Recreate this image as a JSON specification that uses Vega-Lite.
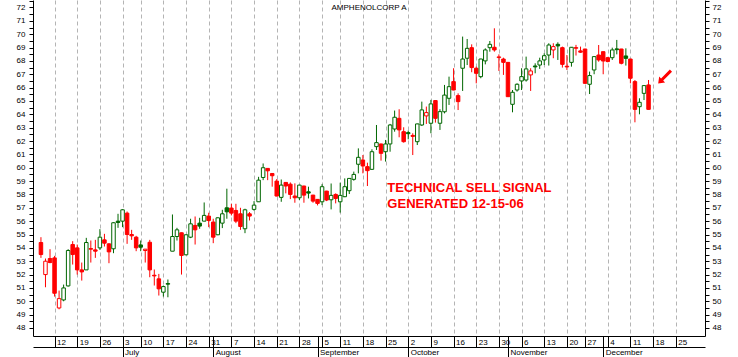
{
"$schema": "https://vega.github.io/schema/vega-lite/v6.json",
"width": 672, "height": 336,
"autosize": {"type": "none"},
"padding": {"left": 33, "top": 0, "right": 33, "bottom": 21},
"background": "white",
"config": {"view": {"stroke": null}, "font": "Liberation Sans"},
"data": {"values": [
{"i":0,"o":54.4,"h":54.8,"l":53.25,"c":53.5},
{"i":1,"o":52.0,"h":53.2,"l":51.05,"c":53.0},
{"i":2,"o":53.2,"h":53.9,"l":52.85,"c":52.9},
{"i":3,"o":53.25,"h":53.4,"l":50.35,"c":50.6},
{"i":4,"o":49.5,"h":50.8,"l":49.4,"c":50.2},
{"i":5,"o":50.1,"h":51.25,"l":50.0,"c":51.0},
{"i":6,"o":51.15,"h":53.9,"l":51.1,"c":53.8},
{"i":7,"o":54.25,"h":54.5,"l":52.75,"c":53.5},
{"i":8,"o":54.0,"h":54.25,"l":52.0,"c":52.35},
{"i":9,"o":52.35,"h":52.9,"l":51.55,"c":52.2},
{"i":10,"o":52.35,"h":54.75,"l":52.35,"c":54.4},
{"i":11,"o":53.95,"h":54.55,"l":52.9,"c":53.9},
{"i":12,"o":53.85,"h":54.6,"l":53.25,"c":53.75},
{"i":13,"o":54.0,"h":55.4,"l":53.85,"c":54.8},
{"i":14,"o":54.6,"h":55.05,"l":54.1,"c":54.35},
{"i":15,"o":54.3,"h":54.35,"l":52.85,"c":53.7},
{"i":16,"o":53.93,"h":55.92,"l":53.6,"c":55.88},
{"i":17,"o":56.0,"h":56.55,"l":55.5,"c":55.9},
{"i":18,"o":56.0,"h":56.9,"l":55.55,"c":56.85},
{"i":19,"o":56.6,"h":56.72,"l":54.3,"c":55.0},
{"i":20,"o":55.0,"h":55.35,"l":54.6,"c":54.9},
{"i":21,"o":54.8,"h":54.9,"l":53.75,"c":54.0},
{"i":22,"o":54.22,"h":54.55,"l":53.75,"c":54.05},
{"i":23,"o":53.8,"h":53.92,"l":52.9,"c":53.9},
{"i":24,"o":54.42,"h":54.6,"l":51.8,"c":52.35},
{"i":25,"o":51.95,"h":52.38,"l":51.18,"c":51.9},
{"i":26,"o":51.68,"h":52.05,"l":50.43,"c":50.93},
{"i":27,"o":50.68,"h":51.18,"l":50.35,"c":51.1},
{"i":28,"o":51.33,"h":51.63,"l":50.3,"c":51.28},
{"i":29,"o":53.75,"h":56.5,"l":53.75,"c":54.85},
{"i":30,"o":54.85,"h":55.5,"l":54.55,"c":55.35},
{"i":31,"o":55.13,"h":55.15,"l":52.0,"c":53.43},
{"i":32,"o":53.48,"h":55.0,"l":53.45,"c":54.98},
{"i":33,"o":54.8,"h":56.18,"l":54.73,"c":55.8},
{"i":34,"o":55.68,"h":56.35,"l":54.25,"c":55.35},
{"i":35,"o":55.85,"h":56.25,"l":55.43,"c":55.63},
{"i":36,"o":56.0,"h":57.4,"l":56.0,"c":56.43},
{"i":37,"o":56.38,"h":56.63,"l":55.55,"c":56.05},
{"i":38,"o":55.93,"h":56.18,"l":54.35,"c":54.8},
{"i":39,"o":54.98,"h":56.28,"l":54.95,"c":56.25},
{"i":40,"o":55.85,"h":56.85,"l":55.48,"c":56.55},
{"i":41,"o":57.0,"h":58.43,"l":56.18,"c":56.7},
{"i":42,"o":56.98,"h":57.3,"l":56.43,"c":56.6},
{"i":43,"o":56.8,"h":57.3,"l":55.85,"c":56.0},
{"i":44,"o":56.55,"h":57.0,"l":55.35,"c":55.6},
{"i":45,"o":55.43,"h":56.93,"l":55.1,"c":56.85},
{"i":46,"o":56.55,"h":56.68,"l":56.05,"c":56.38},
{"i":47,"o":56.88,"h":57.5,"l":56.78,"c":57.2},
{"i":48,"o":57.45,"h":59.32,"l":57.45,"c":59.07},
{"i":49,"o":59.27,"h":60.32,"l":59.07,"c":60.0},
{"i":50,"o":59.95,"h":59.97,"l":59.07,"c":59.77},
{"i":51,"o":59.57,"h":59.6,"l":58.58,"c":59.4},
{"i":52,"o":59.0,"h":59.15,"l":57.86,"c":57.88},
{"i":53,"o":57.78,"h":59.12,"l":57.45,"c":58.7},
{"i":54,"o":58.9,"h":58.92,"l":58.08,"c":58.63},
{"i":55,"o":58.77,"h":58.9,"l":57.65,"c":58.0},
{"i":56,"o":57.88,"h":58.83,"l":57.38,"c":57.75},
{"i":57,"o":57.75,"h":58.72,"l":57.58,"c":58.7},
{"i":58,"o":58.63,"h":58.65,"l":57.38,"c":57.95},
{"i":59,"o":58.2,"h":58.58,"l":57.7,"c":58.1},
{"i":60,"o":57.95,"h":57.97,"l":57.38,"c":57.5},
{"i":61,"o":57.63,"h":57.65,"l":57.18,"c":57.33},
{"i":62,"o":57.45,"h":58.77,"l":57.2,"c":58.58},
{"i":63,"o":58.25,"h":58.27,"l":57.5,"c":57.58},
{"i":64,"o":57.6,"h":58.82,"l":56.88,"c":57.93},
{"i":65,"o":58.0,"h":58.08,"l":57.33,"c":57.7},
{"i":66,"o":57.45,"h":58.88,"l":56.64,"c":57.93},
{"i":67,"o":57.83,"h":59.2,"l":57.8,"c":58.58},
{"i":68,"o":58.28,"h":59.22,"l":58.03,"c":59.2},
{"i":69,"o":59.13,"h":59.71,"l":59.03,"c":59.5},
{"i":70,"o":60.26,"h":61.45,"l":59.58,"c":60.78},
{"i":71,"o":60.58,"h":60.95,"l":59.58,"c":60.13},
{"i":72,"o":60.08,"h":60.38,"l":58.63,"c":59.78},
{"i":73,"o":59.88,"h":61.38,"l":59.85,"c":61.2},
{"i":74,"o":61.58,"h":63.2,"l":61.33,"c":61.88},
{"i":75,"o":61.78,"h":61.8,"l":60.53,"c":61.08},
{"i":76,"o":61.2,"h":62.08,"l":60.46,"c":61.78},
{"i":77,"o":61.78,"h":63.28,"l":61.2,"c":63.2},
{"i":78,"o":62.9,"h":64.28,"l":62.7,"c":63.78},
{"i":79,"o":63.7,"h":64.38,"l":62.28,"c":62.83},
{"i":80,"o":62.7,"h":63.03,"l":61.88,"c":61.95},
{"i":81,"o":62.63,"h":62.78,"l":62.13,"c":62.55},
{"i":82,"o":62.42,"h":62.58,"l":60.95,"c":62.35},
{"i":83,"o":61.95,"h":63.3,"l":61.7,"c":63.28},
{"i":84,"o":63.2,"h":64.95,"l":63.13,"c":64.33},
{"i":85,"o":63.88,"h":64.58,"l":63.28,"c":64.13},
{"i":86,"o":63.33,"h":65.08,"l":62.58,"c":64.78},
{"i":87,"o":65.03,"h":65.05,"l":63.38,"c":63.7},
{"i":88,"o":63.33,"h":64.38,"l":62.83,"c":64.2},
{"i":89,"o":64.19,"h":66.2,"l":64.07,"c":65.44},
{"i":90,"o":65.2,"h":66.82,"l":64.7,"c":66.07},
{"i":91,"o":66.45,"h":67.45,"l":65.8,"c":65.82},
{"i":92,"o":65.4,"h":65.57,"l":64.32,"c":64.95},
{"i":93,"o":67.45,"h":69.82,"l":65.75,"c":68.14},
{"i":94,"o":68.2,"h":69.64,"l":67.69,"c":68.94},
{"i":95,"o":68.99,"h":69.24,"l":67.15,"c":67.5},
{"i":96,"o":67.45,"h":67.57,"l":66.32,"c":67.07},
{"i":97,"o":66.82,"h":68.16,"l":66.7,"c":68.14},
{"i":98,"o":68.0,"h":68.94,"l":67.74,"c":68.82},
{"i":99,"o":68.99,"h":69.49,"l":68.69,"c":69.24},
{"i":100,"o":69.02,"h":70.44,"l":68.69,"c":68.82},
{"i":101,"o":68.25,"h":68.49,"l":67.25,"c":68.3},
{"i":102,"o":68.14,"h":68.24,"l":66.95,"c":67.89},
{"i":103,"o":67.89,"h":67.9,"l":65.3,"c":65.32},
{"i":104,"o":64.75,"h":65.82,"l":64.15,"c":65.65},
{"i":105,"o":65.82,"h":66.32,"l":65.7,"c":66.25},
{"i":106,"o":66.5,"h":67.45,"l":65.82,"c":66.82},
{"i":107,"o":66.57,"h":68.32,"l":66.45,"c":67.4},
{"i":108,"o":66.95,"h":67.45,"l":65.75,"c":67.25},
{"i":109,"o":67.62,"h":67.82,"l":67.07,"c":67.55},
{"i":110,"o":67.69,"h":68.24,"l":67.4,"c":68.0},
{"i":111,"o":68.07,"h":68.57,"l":67.69,"c":68.39},
{"i":112,"o":68.44,"h":69.32,"l":67.65,"c":69.19},
{"i":113,"o":68.82,"h":69.32,"l":68.2,"c":69.07},
{"i":114,"o":69.24,"h":69.39,"l":68.07,"c":69.12},
{"i":115,"o":68.99,"h":69.07,"l":67.5,"c":67.74},
{"i":116,"o":67.6,"h":68.44,"l":67.32,"c":67.55},
{"i":117,"o":67.89,"h":69.04,"l":67.57,"c":69.02},
{"i":118,"o":68.94,"h":69.2,"l":68.4,"c":69.0},
{"i":119,"o":68.75,"h":69.07,"l":68.6,"c":68.65},
{"i":120,"o":68.89,"h":68.9,"l":66.3,"c":66.32},
{"i":121,"o":66.25,"h":67.2,"l":65.52,"c":66.9},
{"i":122,"o":67.32,"h":68.34,"l":67.0,"c":68.32},
{"i":123,"o":68.44,"h":69.19,"l":67.94,"c":68.07},
{"i":124,"o":68.69,"h":68.7,"l":67.0,"c":67.99},
{"i":125,"o":68.24,"h":68.3,"l":67.9,"c":67.95},
{"i":126,"o":68.24,"h":68.99,"l":68.07,"c":68.82},
{"i":127,"o":68.9,"h":69.57,"l":68.49,"c":68.84},
{"i":128,"o":68.89,"h":68.9,"l":67.74,"c":67.82},
{"i":129,"o":68.37,"h":68.94,"l":67.65,"c":68.19},
{"i":130,"o":68.14,"h":68.15,"l":66.32,"c":66.7},
{"i":131,"o":66.45,"h":66.57,"l":63.4,"c":64.37},
{"i":132,"o":64.57,"h":65.2,"l":64.0,"c":64.9},
{"i":133,"o":65.57,"h":66.17,"l":65.07,"c":66.15},
{"i":134,"o":66.2,"h":66.57,"l":64.35,"c":64.37}
]},
"layer": [
{
"transform": [
 {"window": [{"op": "lag", "field": "c", "as": "pc"}], "sort": [{"field": "i"}]},
 {"calculate": "datum.pc == null || datum.c < datum.pc ? 'down' : 'up'", "as": "dir"}
],
"mark": {"type": "rule", "strokeWidth": 1},
"encoding": {
 "x": {"field": "i", "type": "quantitative", "scale": {"domain": [-0.65, 145.35], "nice": false, "zero": false},
  "axis": {"orient": "bottom", "title": null,
   "values": [3,8,13,18,22,27,32,37,42,47,52,57,62,66,71,76,81,86,91,96,101,106,111,116,120,125,130,135,140],
   "labelExpr": "['12','19','26','3','10','17','24','31','7','14','21','28','5','11','18','25','2','9','16','23','30','6','13','20','27','4','11','18','25'][indexof([3,8,13,18,22,27,32,37,42,47,52,57,62,66,71,76,81,86,91,96,101,106,111,116,120,125,130,135,140], datum.value)]",
   "grid": true, "gridDash": [4, 3], "gridColor": "#b4b4b4", "gridWidth": 1,
   "tickSize": 11, "tickColor": "black", "domainColor": "black",
   "labelAlign": "left", "labelBaseline": "top", "labelPadding": -9, "labelOffset": 2,
   "labelFontSize": 8, "labelColor": "black", "labelFlush": false, "labelOverlap": false, "labelBound": false}},
 "y": {"field": "l", "type": "quantitative", "scale": {"domain": [47.4, 72.56], "nice": false, "zero": false},
  "axis": {"orient": "left", "title": null,
   "values": [48,48.5,49,49.5,50,50.5,51,51.5,52,52.5,53,53.5,54,54.5,55,55.5,56,56.5,57,57.5,58,58.5,59,59.5,60,60.5,61,61.5,62,62.5,63,63.5,64,64.5,65,65.5,66,66.5,67,67.5,68,68.5,69,69.5,70,70.5,71,71.5,72,72.5],
   "labelExpr": "datum.value % 1 == 0 ? format(datum.value, 'd') : ''",
   "grid": false, "tickSize": 4, "tickColor": "black", "domainColor": "black",
   "labelPadding": 4, "labelFontSize": 8, "labelColor": "black", "labelOverlap": false, "labelFlush": false, "labelBound": false}},
 "y2": {"field": "h"},
 "color": {"field": "dir", "type": "nominal", "scale": {"domain": ["up", "down"], "range": ["#006600", "#ff0000"]}, "legend": null}
}
},
{
"transform": [
 {"window": [{"op": "lag", "field": "c", "as": "pc"}], "sort": [{"field": "i"}]},
 {"calculate": "datum.pc == null || datum.c < datum.pc ? 'down' : 'up'", "as": "dir"},
 {"calculate": "datum.c > datum.o ? 'hollow' : datum.dir", "as": "fk"}
],
"mark": {"type": "bar", "size": 3.5, "strokeWidth": 1, "orient": "vertical"},
"encoding": {
 "x": {"field": "i", "type": "quantitative", "scale": {"domain": [-0.65, 145.35], "nice": false, "zero": false},
  "axis": {"orient": "bottom", "title": null,
   "values": [18, 38, 61, 81, 103, 124],
   "labelExpr": "['July','August','September','October','November','December'][indexof([18,38,61,81,103,124], datum.value)]",
   "grid": false, "domain": false, "tickSize": 21, "tickColor": "black",
   "labelAlign": "left", "labelBaseline": "top", "labelPadding": -9, "labelOffset": 2,
   "labelFontSize": 8, "labelColor": "black", "labelFlush": false, "labelOverlap": false, "labelBound": false}},
 "y": {"field": "o", "type": "quantitative", "scale": {"domain": [47.4, 72.56], "nice": false, "zero": false},
  "axis": {"orient": "right", "title": null,
   "values": [48,48.5,49,49.5,50,50.5,51,51.5,52,52.5,53,53.5,54,54.5,55,55.5,56,56.5,57,57.5,58,58.5,59,59.5,60,60.5,61,61.5,62,62.5,63,63.5,64,64.5,65,65.5,66,66.5,67,67.5,68,68.5,69,69.5,70,70.5,71,71.5,72,72.5],
   "labelExpr": "datum.value % 1 == 0 ? format(datum.value, 'd') : ''",
   "grid": false, "tickSize": 4, "tickColor": "black", "domainColor": "black",
   "labelPadding": 3, "labelFontSize": 8, "labelColor": "black", "labelOverlap": false, "labelFlush": false, "labelBound": false}},
 "y2": {"field": "c"},
 "stroke": {"field": "dir", "type": "nominal", "scale": {"domain": ["up", "down"], "range": ["#006600", "#ff0000"]}, "legend": null},
 "fill": {"field": "fk", "type": "nominal", "scale": {"domain": ["up", "down", "hollow"], "range": ["#006600", "#ff0000", "#ffffff"]}, "legend": null}
}
},
{
"data": {"values": [{"i": 76.4, "p": 58.2, "note": "TECHNICAL SELL SIGNAL\nGENERATED 12-15-06"}]},
"mark": {"type": "text", "align": "left", "baseline": "alphabetic", "fontSize": 13, "fontWeight": "bold", "color": "#ff0000", "lineBreak": "\n", "lineHeight": 16},
"encoding": {
 "x": {"field": "i", "type": "quantitative", "scale": {"domain": [-0.65, 145.35], "nice": false, "zero": false},
  "axis": {"orient": "bottom", "offset": 11, "title": null, "labels": false, "ticks": false, "grid": false, "domain": true, "domainColor": "black"}},
 "y": {"field": "p", "type": "quantitative", "scale": {"domain": [47.4, 72.56], "nice": false, "zero": false}, "axis": null},
 "text": {"field": "note"}
}
},
{
"data": {"values": [{"i": 72.35, "p": 71.84, "name": "AMPHENOLCORP A"}]},
"mark": {"type": "text", "align": "center", "baseline": "alphabetic", "fontSize": 8, "color": "black"},
"encoding": {
 "x": {"field": "i", "type": "quantitative", "scale": {"domain": [-0.65, 145.35], "nice": false, "zero": false}, "axis": null},
 "y": {"field": "p", "type": "quantitative", "scale": {"domain": [47.4, 72.56], "nice": false, "zero": false}, "axis": null},
 "text": {"field": "name"}
}
},
{
"data": {"values": [{"i": 137.65, "p": 66.83}]},
"mark": {"type": "point", "filled": true, "opacity": 1, "color": "#ff0000", "size": 190, "shape": "M -1 1 L -0.854 0.006 L -0.586 0.274 L 0.694 -1.006 L 1.006 -0.694 L -0.274 0.586 L -0.006 0.854 Z"},
"encoding": {
 "x": {"field": "i", "type": "quantitative", "scale": {"domain": [-0.65, 145.35], "nice": false, "zero": false}, "axis": null},
 "y": {"field": "p", "type": "quantitative", "scale": {"domain": [47.4, 72.56], "nice": false, "zero": false}, "axis": null}
}
}
],
"resolve": {"axis": {"x": "independent", "y": "independent"}}
}
